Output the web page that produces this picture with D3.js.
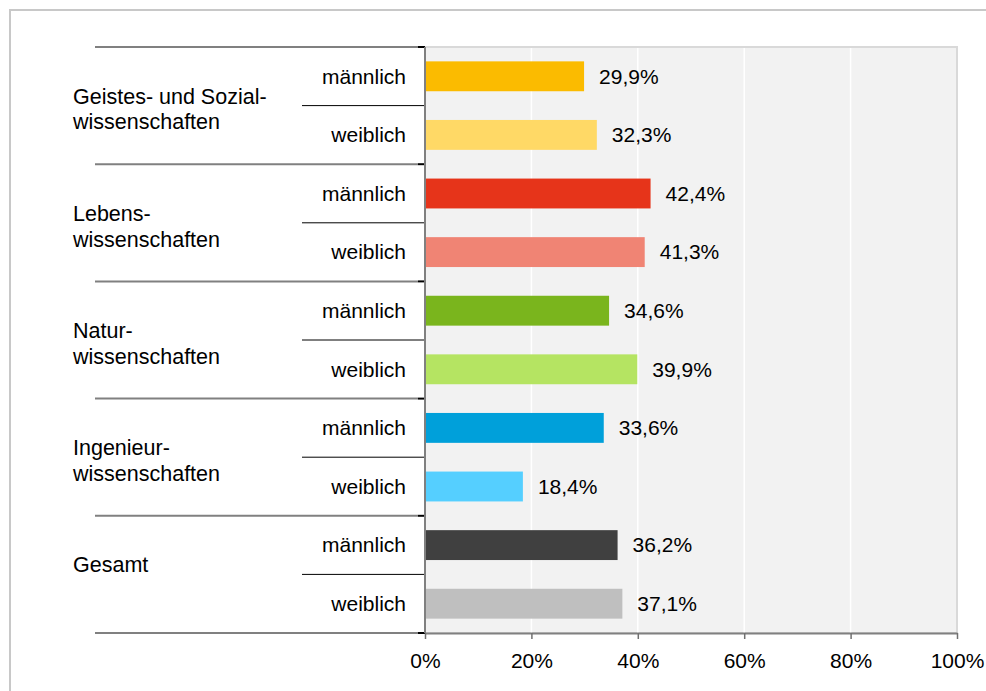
<!DOCTYPE html>
<html>
<head>
<meta charset="utf-8">
<script src="https://cdn.jsdelivr.net/npm/d3@7"></script>
<style>
  body { margin: 0; background: #fff; }
  svg { display: block; font-family: "Liberation Sans", Arial, sans-serif; }
</style>
</head>
<body>
<svg id="chart" width="986" height="691"></svg>
<script>
/* Data */
const groups = [
  ["Geistes- und Sozial-", "wissenschaften"],
  ["Lebens-", "wissenschaften"],
  ["Natur-", "wissenschaften"],
  ["Ingenieur-", "wissenschaften"],
  ["Gesamt"]
];
const genders = ["männlich", "weiblich"];
const maleValues = [29.9, 42.4, 34.6, 33.6, 36.2];
const femaleValues = [32.3, 41.3, 39.9, 18.4, 37.1];
const maleColors = ["#fbbb00", "#e6341a", "#7ab51d", "#00a0da", "#404040"];
const femaleColors = ["#ffd966", "#f08474", "#b5e462", "#55cfff", "#bfbfbf"];
const ticks = [0, 20, 40, 60, 80, 100];

/* Rows */
const rows = [];
groups.forEach((g, gi) => {
  rows.push({ id: gi + "-m", group: gi, gender: genders[0], value: maleValues[gi], color: maleColors[gi] });
  rows.push({ id: gi + "-w", group: gi, gender: genders[1], value: femaleValues[gi], color: femaleColors[gi] });
});

/* SVG */
const svg = d3.select("#chart");
const FONT = 21;

/* Outer frame (only top and left edges visible) */
svg.append("rect")
  .attr("x", 10).attr("y", 10)
  .attr("width", 1000).attr("height", 700)
  .attr("fill", "none")
  .attr("stroke", "#c8c8c8")
  .attr("stroke-width", 2);

/* Scales */
const plot = { left: 425, right: 957, top: 47, bottom: 633 };
const x = d3.scaleLinear().domain([0, 100]).range([plot.left, plot.right]);
const y = d3.scaleBand().domain(rows.map(d => d.id)).range([plot.top, plot.bottom]).padding(0);
const bw = y.bandwidth();
const barH = bw * 0.51;

/* Plot background */
svg.append("rect")
  .attr("x", plot.left).attr("y", plot.top)
  .attr("width", plot.right - plot.left).attr("height", plot.bottom - plot.top)
  .attr("fill", "#f2f2f2")
  .attr("stroke", "#d9d9d9")
  .attr("stroke-width", 2);

/* Grid */
svg.append("g")
  .selectAll("line")
  .data(ticks.filter(t => t > 0 && t < 100))
  .enter().append("line")
  .attr("x1", d => x(d)).attr("x2", d => x(d))
  .attr("y1", plot.top + 1).attr("y2", plot.bottom)
  .attr("stroke", "#ffffff")
  .attr("stroke-width", 1.5);

/* Bars */
svg.append("g")
  .selectAll("rect")
  .data(rows)
  .enter().append("rect")
  .attr("x", x(0) + 1)
  .attr("y", d => y(d.id) + (bw - barH) / 2)
  .attr("width", d => x(d.value) - x(0) - 1)
  .attr("height", barH)
  .attr("fill", d => d.color);

/* Value labels */
svg.append("g")
  .selectAll("text")
  .data(rows)
  .enter().append("text")
  .attr("x", d => x(d.value) + 15)
  .attr("y", d => y(d.id) + bw / 2)
  .attr("dy", "0.35em")
  .attr("font-size", FONT)
  .attr("fill", "#000")
  .text(d => d.value.toFixed(1).replace(".", ",") + "%");

/* Left structure lines */
const left = svg.append("g");
// group separators (gray, thick)
const groupEdges = d3.range(groups.length + 1).map(i => i < groups.length ? y(i + "-m") : plot.bottom);
left.selectAll("line.group")
  .data(groupEdges)
  .enter().append("line")
  .attr("class", "group")
  .attr("x1", 95).attr("x2", 418)
  .attr("y1", d => d).attr("y2", d => d)
  .attr("stroke", "#808080")
  .attr("stroke-width", 2);
// black ticks at group edges
left.selectAll("line.gtick")
  .data(groupEdges)
  .enter().append("line")
  .attr("class", "gtick")
  .attr("x1", 418).attr("x2", plot.left)
  .attr("y1", d => d).attr("y2", d => d)
  .attr("stroke", "#000")
  .attr("stroke-width", 2);
// subgroup separators (black, thin)
left.selectAll("line.sub")
  .data(groups.map((g, gi) => y(gi + "-w")))
  .enter().append("line")
  .attr("class", "sub")
  .attr("x1", 302).attr("x2", plot.left)
  .attr("y1", d => d).attr("y2", d => d)
  .attr("stroke", "#000")
  .attr("stroke-width", 1);

/* Gender labels */
svg.append("g")
  .selectAll("text")
  .data(rows)
  .enter().append("text")
  .attr("x", 406)
  .attr("y", d => y(d.id) + bw / 2)
  .attr("dy", "0.35em")
  .attr("text-anchor", "end")
  .attr("font-size", FONT)
  .attr("fill", "#000")
  .text(d => d.gender);

/* Group labels */
const gl = svg.append("g")
  .selectAll("text")
  .data(groups)
  .enter().append("text")
  .attr("x", 73)
  .attr("y", (d, i) => y(i + "-m") + bw - 9.5)
  .attr("font-size", 21.5)
  .attr("fill", "#000");
gl.selectAll("tspan")
  .data(d => d)
  .enter().append("tspan")
  .attr("x", 73)
  .attr("dy", (d, i) => i === 0 ? "0.35em" : "1.2em")
  .text(d => d);

/* Left axis line */
svg.append("line")
  .attr("x1", plot.left).attr("x2", plot.left)
  .attr("y1", plot.top).attr("y2", plot.bottom)
  .attr("stroke", "#808080")
  .attr("stroke-width", 2);

/* X axis */
const xAxis = svg.append("g")
  .attr("transform", `translate(0,${plot.bottom})`)
  .call(d3.axisBottom(x).tickValues(ticks).tickSize(6).tickSizeOuter(0).tickFormat(d => d + "%"));
xAxis.select(".domain").attr("stroke", "#808080").attr("stroke-width", 2);
xAxis.selectAll(".tick line").attr("stroke", "#707070").attr("stroke-width", 1.5);
xAxis.selectAll(".tick text")
  .attr("font-family", "'Liberation Sans', Arial, sans-serif")
  .attr("font-size", FONT)
  .attr("fill", "#000")
  .attr("y", 20);
</script>
</body>
</html>
